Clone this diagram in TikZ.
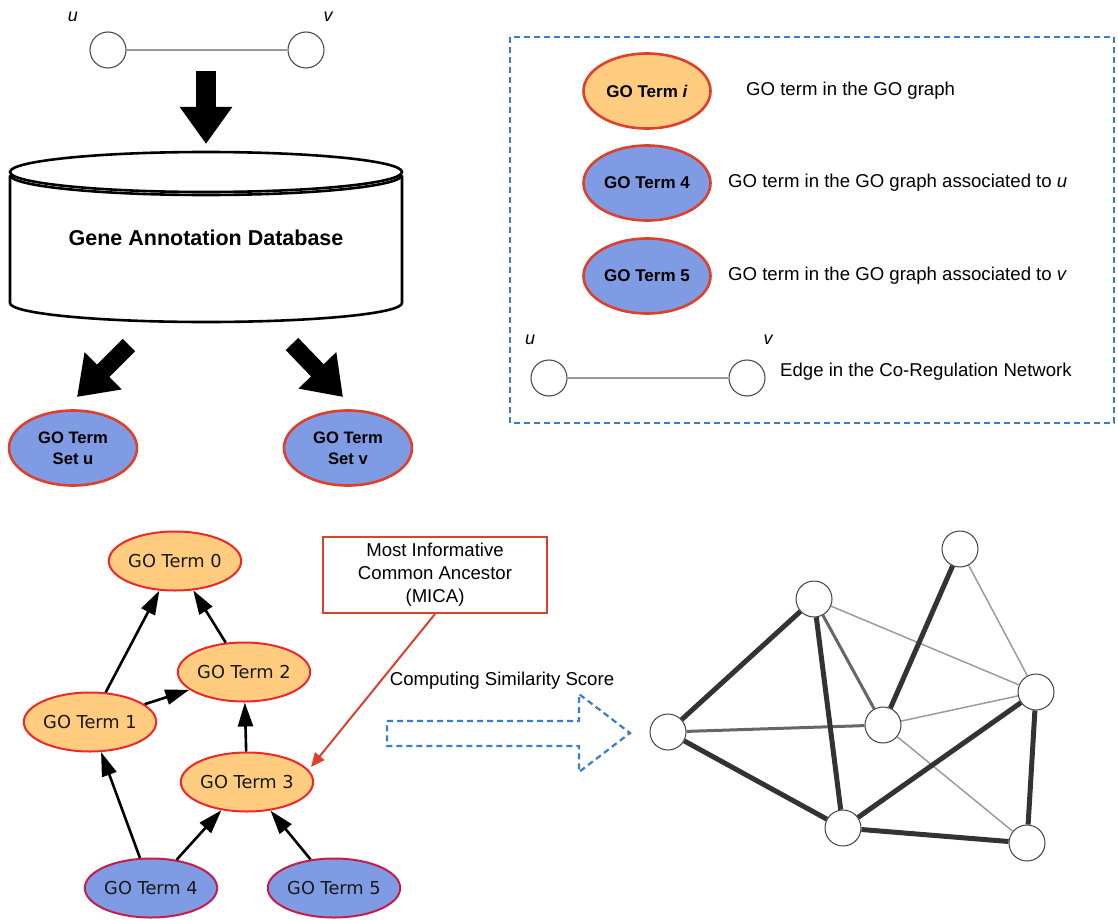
\documentclass[tikz,border=0pt]{standalone}
\usepackage{fontspec}
\setmainfont{Liberation Sans}
\newfontfamily\dejavu{DejaVu Sans}
\usetikzlibrary{shapes.geometric,arrows.meta}
\definecolor{goorange}{RGB}{255,204,128}
\definecolor{goblue}{RGB}{127,155,227}
\definecolor{gored}{RGB}{222,64,44}
\definecolor{gbred}{RGB}{238,40,40}
\definecolor{gbblue}{RGB}{196,30,72}
\definecolor{dashblue}{RGB}{58,125,200}
\definecolor{thickgray}{RGB}{51,51,51}
\definecolor{midgray}{RGB}{102,102,102}
\definecolor{thingray}{RGB}{155,155,155}
\tikzset{
  lbl/.style={font=\fontsize{18.6}{22}\selectfont, inner sep=0pt},
  uvlbl/.style={font=\fontsize{18}{22}\selectfont\itshape, inner sep=0pt},
  smallcirc/.style={circle, draw=black!70, line width=1.1pt, fill=white, minimum size=36pt, inner sep=0pt},
  grayedge/.style={draw=black!40, line width=1.6pt},
  cyl/.style={draw=black, line width=2.6pt},
  bigarrow/.style={line width=20pt, -{Triangle[length=37pt,width=50pt]}},
  diagarrow/.style={line width=17.5pt, -{Triangle[length=37pt,width=50pt]}},
  setnode/.style={ellipse, draw=gored, fill=goblue, line width=2.6pt, minimum width=128pt, minimum height=75pt, inner sep=0pt, align=center, font=\fontsize{16.6}{21}\selectfont\bfseries},
  legnode/.style={ellipse, draw=gored, line width=2.6pt, minimum width=127pt, minimum height=75pt, inner sep=0pt, font=\fontsize{17}{20}\selectfont\bfseries},
  gnodeO/.style={ellipse, draw=gbred, fill=goorange, line width=2pt, minimum width=106pt, minimum height=59pt, inner sep=0pt, font=\dejavu\fontsize{17.8}{20}\selectfont, text=black!90},
  gnodeB/.style={gnodeO, draw=gbblue, fill=goblue},
  garrow/.style={draw=black, line width=2.6pt, -{Triangle[length=24pt,width=15pt]}},
  netnode/.style={circle, draw=black!75, line width=1pt, fill=white, minimum size=36pt, inner sep=0pt},
  thickE/.style={draw=thickgray, line width=5pt},
  midE/.style={draw=midgray, line width=3pt},
  thinE/.style={draw=thingray, line width=1.5pt},
}
\begin{document}
\begin{tikzpicture}[x=1pt,y=-1pt]
\useasboundingbox (0,0) rectangle (1118,920);

% ---- top u-v edge
\node[smallcirc] (tu) at (108,50) {};
\node[smallcirc] (tv) at (306,50) {};
\draw[grayedge] (tu) -- (tv);
\node[uvlbl] (tul) at (73,17) {u};
\node[uvlbl] (tvl) at (328,17) {v};

% ---- big down arrow
\coordinate (da1) at (206,71);
\coordinate (da2) at (206,144);
\draw[bigarrow] (da1) -- (da2);

% ---- cylinder
\draw[cyl] (10,176) -- (10,303) arc[start angle=180,end angle=360,x radius=196pt,y radius=19pt] -- (402,176);
\draw[cyl, fill=white] (206,172) ellipse [x radius=196pt, y radius=20pt];
\draw[cyl] (10,175) arc[start angle=180,end angle=360,x radius=196pt,y radius=20pt];
\node[font=\fontsize{21.5}{26}\selectfont\bfseries, inner sep=0pt] (db) at (206,238) {Gene Annotation Database};

% ---- diagonal arrows
\coordinate (la1) at (129,345);
\coordinate (la2) at (77,397);
\coordinate (ra1) at (292,344);
\coordinate (ra2) at (343,397);
\draw[diagarrow] (la1) -- (la2);
\draw[diagarrow] (ra1) -- (ra2);

% ---- GO term sets
\node[setnode] (setu) at (73,448) {GO Term\\Set u};
\node[setnode] (setv) at (348,448) {GO Term\\Set v};

% ---- legend
\draw[dashblue, line width=2pt, dash pattern=on 6pt off 4pt] (510,37) rectangle (1114,423);
\node[legnode, fill=goorange] (li) at (647,91) {GO Term \textit{i}};
\node[legnode, fill=goblue] (l4) at (647,183) {GO Term 4};
\node[legnode, fill=goblue] (l5) at (647,276) {GO Term 5};
\node[lbl, anchor=west] (lit) at (746,91) {GO term in the GO graph};
\node[lbl, anchor=west] (l4t) at (728,183) {GO term in the GO graph associated to \textit{u}};
\node[lbl, anchor=west] (l5t) at (728,276) {GO term in the GO graph associated to \textit{v}};
\node[smallcirc] (lu) at (549,378) {};
\node[smallcirc] (lv) at (747,378) {};
\draw[grayedge] (lu) -- (lv);
\node[uvlbl] (lul) at (530,340) {u};
\node[uvlbl] (lvl) at (768,340) {v};
\node[lbl, anchor=west] (let) at (780,372) {Edge in the Co-Regulation Network};

% ---- GO graph
\node[gnodeO] (t0) at (175,561) {GO Term 0};
\node[gnodeO] (t2) at (244,672) {GO Term 2};
\node[gnodeO] (t1) at (90,722) {GO Term 1};
\node[gnodeO] (t3) at (247,782) {GO Term 3};
\node[gnodeB] (t4) at (151,888) {GO Term 4};
\node[gnodeB] (t5) at (334,888) {GO Term 5};
\draw[garrow] (t1) -- (t0);
\draw[garrow] (t2) -- (t0);
\draw[garrow] (t1) -- (t2);
\draw[garrow] (t3) -- (t2);
\draw[garrow] (t4) -- (t1);
\draw[garrow] (t4) -- (t3);
\draw[garrow] (t5) -- (t3);

% ---- MICA
\node[draw=gored, line width=2pt, minimum width=224pt, minimum height=76pt, align=center, font=\fontsize{18.6}{23}\selectfont, inner sep=0pt] (mica) at (435,575) {Most Informative\\Common Ancestor\\(MICA)};
\coordinate (micatip) at (311,767);
\draw[draw=gored, line width=2pt, -{Triangle[length=14pt,width=12pt]}] (mica.south) -- (micatip);

% ---- computing arrow
\node[lbl] (comp) at (502,681) {Computing Similarity Score};
\draw[dashblue, line width=2.2pt, dash pattern=on 6pt off 4pt] (387,721) -- (579,721) -- (579,694) -- (630,733) -- (579,772) -- (579,746) -- (387,746) -- cycle;

% ---- network
\node[netnode] (nA) at (668,732) {};
\node[netnode] (nB) at (814,599) {};
\node[netnode] (nC) at (960,549) {};
\node[netnode] (nD) at (883,725) {};
\node[netnode] (nE) at (1036,692) {};
\node[netnode] (nF) at (843,828) {};
\node[netnode] (nG) at (1027,843) {};
\draw[thinE] (nB) -- (nE);
\draw[thinE] (nC) -- (nE);
\draw[thinE] (nD) -- (nE);
\draw[thinE] (nD) -- (nG);
\draw[midE] (nA) -- (nD);
\draw[midE] (nB) -- (nD);
\draw[thickE] (nA) -- (nB);
\draw[thickE] (nA) -- (nF);
\draw[thickE] (nB) -- (nF);
\draw[thickE] (nC) -- (nD);
\draw[thickE] (nE) -- (nF);
\draw[thickE] (nE) -- (nG);
\draw[thickE] (nF) -- (nG);
\end{tikzpicture}
\end{document}
